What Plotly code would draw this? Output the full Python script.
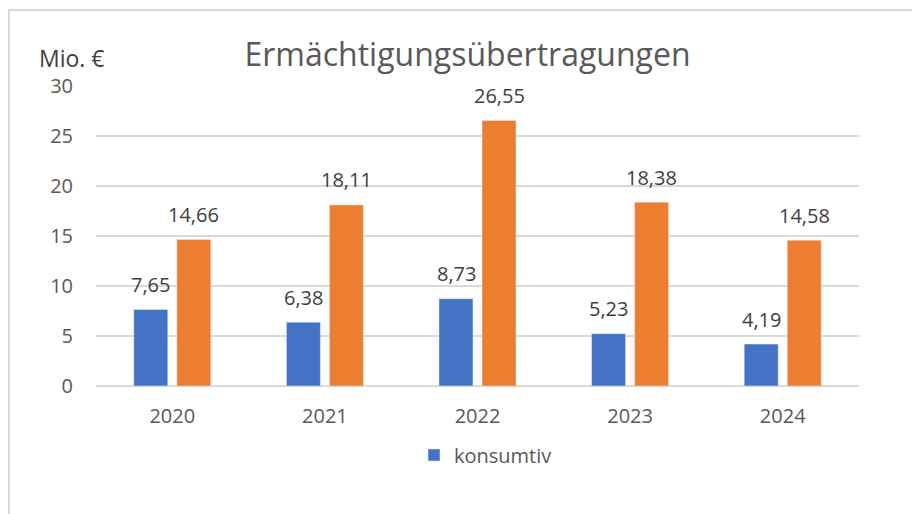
import plotly.graph_objects as go

years = ["2020", "2021", "2022", "2023", "2024"]
konsumtiv = [7.65, 6.38, 8.73, 5.23, 4.19]
investiv = [14.66, 18.11, 26.55, 18.38, 14.58]
y_ticks = [0, 5, 10, 15, 20, 25, 30]

FONT = "Open Sans"
BLUE = "#4472C4"
ORANGE = "#ED7D31"

fig = go.Figure()
fig.add_trace(go.Bar(x=years, y=konsumtiv, name="konsumtiv", marker_color=BLUE,
                     showlegend=True))
fig.add_trace(go.Bar(x=years, y=investiv, name="investiv", marker_color=ORANGE,
                     showlegend=False))

def fmt(v):
    return f"{v:.2f}".replace(".", ",")

annotations = []
for series, shift in ((konsumtiv, -21.5), (investiv, 21.5)):
    for i, v in enumerate(series):
        annotations.append(dict(x=i, y=v, xref="x", yref="y", text=fmt(v),
                                showarrow=False, xshift=shift, yshift=25,
                                yanchor="middle",
                                font=dict(family=FONT, size=20, color="#404040")))

annotations.append(dict(x=(37 - 96) / 763, y=1.0933, xref="paper", yref="paper",
                        text="Mio. €", showarrow=False, xanchor="left",
                        yanchor="middle",
                        font=dict(family=FONT, size=23, color="#404040")))

fig.update_layout(
    width=912, height=514,
    margin=dict(l=96, r=53, t=86, b=128),
    paper_bgcolor="white", plot_bgcolor="white",
    barmode="group", bargap=0.436, bargroupgap=0.21,
    title=dict(text="Ermächtigungsübertragungen", x=(467.5 - 96) / 763, xref="paper",
               y=1 - 55 / 514, yref="container", xanchor="center", yanchor="middle",
               font=dict(family=FONT, size=32, color="#595959")),
    xaxis=dict(type="category", range=[-0.5, len(years) - 0.5], showgrid=False,
               showline=False, ticks="outside", ticklen=12,
               tickcolor="rgba(0,0,0,0)",
               tickfont=dict(family=FONT, size=20, color="#595959")),
    yaxis=dict(range=[0, 30], tickvals=y_ticks, showgrid=True,
               gridcolor="#d9d9d9", gridwidth=1.5, zeroline=True,
               zerolinecolor="#d9d9d9", zerolinewidth=1.5,
               ticks="outside", ticklen=18, tickcolor="rgba(0,0,0,0)",
               tickfont=dict(family=FONT, size=20, color="#595959")),
    legend=dict(orientation="h", x=(414 - 96) / 763, xanchor="left",
                y=-0.23, yanchor="middle",
                font=dict(family=FONT, size=20, color="#595959")),
    annotations=annotations,
    shapes=[dict(type="rect", xref="paper", yref="paper",
                 x0=-0.114, x1=1.2, y0=-0.7, y1=1 + (86 - 10) / 300,
                 line=dict(color="#d9d9d9", width=2), layer="below")],
)

fig.write_html("out.html", config={"displayModeBar": False},
               post_script="document.body.style.margin='0';")
